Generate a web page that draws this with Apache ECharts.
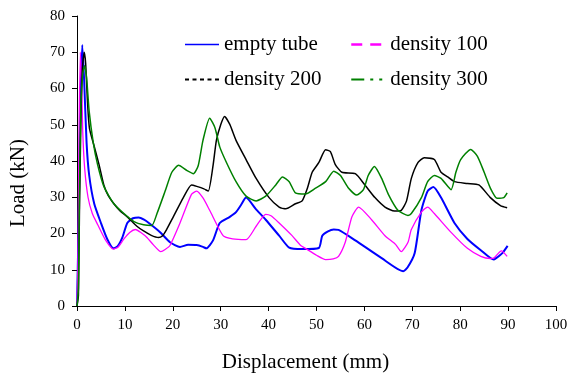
<!DOCTYPE html>
<html>
<head>
<meta charset="utf-8">
<script src="https://cdn.jsdelivr.net/npm/echarts@6/dist/echarts.min.js"></script>
<style>
  html, body { margin: 0; padding: 0; background: #fff; }
  #chart { width: 576px; height: 378px; }
</style>
</head>
<body>
<div id="chart"></div>
<script>
// [displacement mm, load kN]
const emptyTube = [[0,0],[0.3,20],[0.7,55],[1.1,72],[1.5,62],[2,45],[2.55,36],[3.6,28.2],[5,22.9],[6.3,18.5],[7.6,15.9],[8.5,16.5],[9.5,19],[10.5,22.9],[11.7,24.2],[12.9,24.4],[14,23.8],[15,22.9],[17.4,20.3],[19.4,17.6],[21.5,16.3],[23.2,16.9],[25,16.8],[26.3,16.3],[27,15.9],[28.4,18.1],[29.8,22.9],[31.9,24.6],[33.2,25.9],[34.3,28],[35.3,29.9],[37.3,26.8],[39.4,23.8],[42.2,19.4],[44.3,16.1],[47,15.7],[50.5,16],[51.2,19.4],[52.4,20.6],[53.6,21.1],[54.6,21],[58.1,18.1],[63.6,13.2],[68.1,9.6],[69,10.6],[70.5,14.6],[71.9,26.4],[73.2,31.7],[74.4,32.8],[76,29.9],[78.8,22.9],[81.5,18.5],[84.3,15.4],[87,12.8],[87.5,13.2],[88.8,14.6],[89.9,16.6]]
const density100 = [[0,0],[0.2,12],[0.4,45],[0.7,70],[1.0,60],[1.2,48],[1.6,38],[2.3,30],[3.2,25.5],[4.3,22.5],[6,18.1],[7.6,15.7],[8.6,16.3],[9.8,18.5],[11,20.3],[12.2,21.1],[13.4,20.2],[14.6,18.9],[16,16.8],[17.5,15],[18.4,15.6],[19.4,16.7],[21.5,22.9],[23.9,30.8],[25,31.7],[26.3,29.8],[27.7,26.4],[30.5,19.4],[32.5,18.5],[35.3,18.3],[37.4,22],[39.4,25.3],[40.5,24.9],[42.2,22.9],[44.9,19.4],[46.7,16.7],[47.7,15.9],[50,14],[51.9,12.8],[53.5,13],[54.6,13.7],[56,17.6],[57.4,24.6],[58.8,27.3],[61.5,23.8],[64.3,19.4],[66.5,17],[67.7,15],[69.1,17.6],[69.8,21.1],[71.9,25.9],[73.2,27.3],[74.6,25.5],[78.1,20.3],[81.5,15.9],[84.3,13.7],[86.3,13.1],[87,13.2],[88.6,15.2],[89.8,13.7]]
const density200 = [[0,0],[0.3,3],[0.5,25],[0.8,50],[1.1,65],[1.5,70],[1.8,67],[2.2,56],[2.6,49],[3.6,44],[4.6,39],[5.6,33.4],[6.5,30.5],[7.7,28.2],[9,26.2],[10.5,24.6],[12.5,22],[13.9,20.7],[15.5,19.5],[17,18.9],[17.8,19.3],[18.7,21.1],[20.1,24.6],[22.2,29.9],[23.9,33.4],[25,33],[26.5,32.3],[27.4,31.7],[28.4,38.7],[29.1,45.7],[30,50],[30.8,52.3],[31.9,50.1],[33.2,45.7],[35.3,40.4],[37.4,35.2],[40.1,29.9],[42.2,27.3],[43.6,26.8],[45.6,28.2],[47,29],[48.1,32.5],[49.1,36.9],[50.5,39.6],[51.9,43.1],[52.9,42.6],[53.9,39.1],[55.3,36.9],[58.1,36.5],[60.1,33.4],[62.2,29.9],[64.3,27.3],[66.3,26.2],[67.7,26.4],[68.8,29],[69.8,35.2],[71.2,39.6],[72.5,40.9],[74.6,40.4],[76,36.9],[77.4,35.6],[78.8,34.3],[81.5,33.8],[83.9,33.4],[86.3,29.9],[88.4,27.7],[89.8,27.1]]
const density300 = [[0,0],[0.3,5],[0.5,30],[0.8,55],[1.2,64],[1.6,66.3],[2,63],[2.55,53.6],[3.4,45],[4.3,39],[5.6,33],[7.7,28.2],[9.8,25.5],[11.9,23.3],[13.9,22.4],[15.6,22.2],[16.7,25.5],[18.4,31.7],[19.8,36.9],[21.2,38.8],[22.9,37.4],[24.3,36.5],[25.3,38.7],[26.3,45.7],[27.7,51.8],[28.8,49.2],[29.8,43.9],[31.2,39.6],[33.2,34.3],[35.3,30.3],[37.4,29],[39.4,30.3],[41.5,33.4],[42.9,35.6],[44.3,34.3],[45.6,31.2],[47.7,30.9],[49.8,32.5],[51.9,34.3],[53.6,37.2],[55,36],[56.7,32.5],[58.4,30.6],[59.8,32.1],[60.8,36],[62.1,38.5],[63.6,35.2],[65,30.8],[67,26.4],[69.1,25],[69.8,25.5],[71.9,29.9],[73.2,34.3],[74.6,36],[76,35.2],[78.1,32.1],[79.1,36.9],[80.1,40.4],[82.2,43.2],[83.6,41.3],[85,36.9],[86.3,32.5],[87.7,29.7],[89.1,29.9],[89.8,31.2]]

const seriesNames = ['empty tube', 'density 100', 'density 200', 'density 300']

const font = 'Liberation Serif'
const chart = echarts.init(document.getElementById('chart'))

// no marker in the legend, only the line sample
const noMarker = { opacity: 0, color: 'transparent', borderWidth: 0 }

const legendBase = {
    orient: 'vertical',
    top: 34,
    padding: 0,
    itemWidth: 34,
    itemHeight: 14,
    itemGap: 14,
    itemStyle: noMarker,
    textStyle: { fontFamily: font, fontSize: 21, color: '#000' },
}

const lineSeries = (name, data, color, width) => ({
    name, type: 'line', data, color,
    symbol: 'none',
    smooth: 0.2,
    lineStyle: { color, width },
})

chart.setOption({
    animation: false,
    backgroundColor: '#fff',
    grid: { left: 73, right: 20, top: 16, bottom: 58 },
    legend: [
        {
            ...legendBase,
            left: 184,
            data: [
                { name: seriesNames[0], itemStyle: noMarker, lineStyle: { width: 1.5 } },
                { name: seriesNames[2], itemStyle: noMarker, lineStyle: { type: [4, 3.5], width: 2 } },
            ],
        },
        {
            ...legendBase,
            left: 350,
            data: [
                { name: seriesNames[1], itemStyle: noMarker, lineStyle: { type: [11, 8], width: 2.5 } },
                { name: seriesNames[3], itemStyle: noMarker, lineStyle: { type: [13, 6, 3, 6, 3, 6], width: 2 } },
            ],
        },
    ],
    xAxis: {
        type: 'value',
        min: 0,
        max: 100,
        interval: 10,
        name: 'Displacement (mm)',
        nameLocation: 'middle',
        nameGap: 46,
        nameTextStyle: { fontFamily: font, fontSize: 21, color: '#000', padding: [0, 22, 0, 0] },
        axisLine: { lineStyle: { color: '#000', width: 1 } },
        axisTick: { show: true, length: 5, lineStyle: { color: '#000' } },
        axisLabel: { fontFamily: font, fontSize: 15, color: '#000', margin: 12 },
        splitLine: { show: false },
    },
    yAxis: {
        type: 'value',
        min: 0,
        max: 80,
        interval: 10,
        name: 'Load (kN)',
        nameLocation: 'middle',
        nameGap: 48,
        nameTextStyle: { fontFamily: font, fontSize: 21, color: '#000', padding: [0, 44, 0, 0] },
        axisLine: { show: true, lineStyle: { color: '#000', width: 1 } },
        axisTick: { show: true, length: 5, lineStyle: { color: '#000' } },
        axisLabel: { fontFamily: font, fontSize: 15, color: '#000', margin: 12 },
        splitLine: { show: false },
    },
    series: [
        lineSeries(seriesNames[0], emptyTube, '#0000ff', 2),
        lineSeries(seriesNames[1], density100, '#ff00ff', 1.3),
        lineSeries(seriesNames[2], density200, '#000000', 1.5),
        lineSeries(seriesNames[3], density300, '#008000', 1.5),
    ],
})
</script>
</body>
</html>
